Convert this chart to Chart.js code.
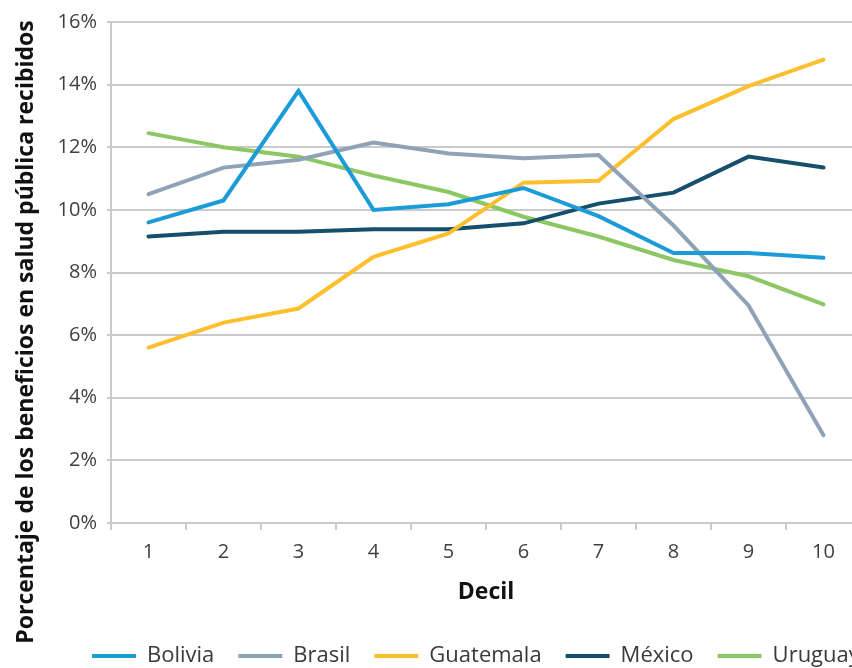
<!DOCTYPE html>
<html>
<head>
<meta charset="utf-8">
<script src="https://cdn.jsdelivr.net/npm/chart.js@4/dist/chart.umd.min.js"></script>
<style>
  html, body { margin: 0; padding: 0; background: #fff; overflow: hidden; }
  #wrap { width: 880px; height: 668px; position: relative; }
</style>
</head>
<body>
<div id="wrap"><canvas id="c"></canvas></div>
<script>
const deciles = ['1', '2', '3', '4', '5', '6', '7', '8', '9', '10'];
const bolivia   = [9.6, 10.3, 13.8, 10.0, 10.18, 10.7, 9.8, 8.62, 8.62, 8.47];
const brasil    = [10.5, 11.35, 11.6, 12.15, 11.8, 11.65, 11.75, 9.5, 6.95, 2.8];
const guatemala = [5.6, 6.4, 6.85, 8.5, 9.25, 10.87, 10.93, 12.9, 13.95, 14.8];
const mexico    = [9.15, 9.3, 9.3, 9.38, 9.38, 9.57, 10.2, 10.55, 11.7, 11.35];
const uruguay   = [12.45, 12.0, 11.7, 11.1, 10.57, 9.78, 9.15, 8.4, 7.88, 6.98];
const seriesNames = ['Bolivia', 'Brasil', 'Guatemala', 'México', 'Uruguay'];
const yTitle = 'Porcentaje de los beneficios en salud pública recibidos';
const xTitle = 'Decil';

const colors = ['#1b9cd8', '#8fa2b6', '#fdbf2d', '#144f6c', '#8dc764'];
const FONT = "'Open Sans', 'Noto Sans', sans-serif";
const GRID = '#c9cbcb';

const seriesData = [bolivia, brasil, guatemala, mexico, uruguay];
const datasets = seriesNames.map((n, i) => ({
  label: n,
  data: seriesData[i],
  borderColor: colors[i],
  backgroundColor: colors[i],
  borderWidth: 4,
  borderCapStyle: 'round',
  borderJoinStyle: 'miter',
  pointRadius: 0,
  pointHoverRadius: 0,
  tension: 0,
  fill: false
}));

const LEGEND_PAD = 24;
const shiftPlugin = {
  id: 'shiftBoxes',
  afterUpdate(chart) {
    const lg = chart.legend;
    if (lg) {
      const dx = 92 - LEGEND_PAD;
      lg.left += dx; lg.right += dx; lg.top += 9; lg.bottom += 40;
    }
    const t = chart.titleBlock;
    if (t) { t.top = 0; t.bottom = 664; }
  }
};

new Chart(document.getElementById('c'), {
  type: 'line',
  data: { labels: deciles, datasets },
  plugins: [shiftPlugin],
  options: {
    responsive: true,
    maintainAspectRatio: false,
    animation: false,
    events: [],
    layout: { padding: { top: 22, right: 19, bottom: 0, left: 0 } },
    plugins: {
      tooltip: { enabled: false },
      title: {
        display: true,
        position: 'left',
        text: yTitle,
        color: '#111',
        font: { family: FONT, size: 23, weight: 'bold' },
        padding: { top: 12.2, bottom: 6 }
      },
      legend: {
        display: true,
        position: 'bottom',
        align: 'start',
        labels: {
          usePointStyle: true,
          pointStyle: 'line',
          pointStyleWidth: 44,
          padding: LEGEND_PAD,
          color: '#3a3a3a',
          font: { family: FONT, size: 22 }
        }
      }
    },
    scales: {
      x: {
        type: 'category',
        offset: true,
        afterFit(s) { s.height = 89; },
        grid: { offset: true, drawOnChartArea: false, drawTicks: true, tickLength: 7, color: GRID, lineWidth: 2 },
        border: { display: true, color: GRID, width: 2 },
        ticks: { color: '#404040', padding: 10, maxRotation: 0, font: { family: FONT, size: 20 } },
        title: { display: true, text: xTitle, color: '#111', font: { family: FONT, size: 23, weight: 'bold' }, padding: { top: 4, bottom: 6.2 } }
      },
      y: {
        min: 0,
        max: 16,
        afterFit(s) { s.width = 111 - (27.6 + 12.2 + 6); },
        grid: { color: GRID, lineWidth: 2, tickLength: 4, drawTicks: true },
        border: { display: true, color: GRID, width: 2 },
        ticks: { stepSize: 2, color: '#404040', padding: 10, font: { family: FONT, size: 20 }, callback: v => v + '%' }
      }
    }
  }
});
</script>
</body>
</html>
